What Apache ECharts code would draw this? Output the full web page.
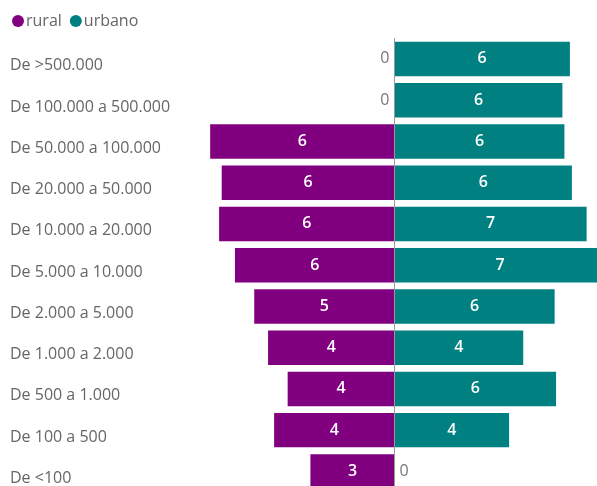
<!DOCTYPE html>
<html>
<head>
<meta charset="utf-8">
<script src="https://cdn.jsdelivr.net/npm/echarts@6/dist/echarts.min.js"></script>
<style>
  html, body { margin: 0; padding: 0; background: #fff; }
  #chart { width: 597px; height: 486px; }
</style>
</head>
<body>
<div id="chart"></div>
<script>
// Municipality size bands, largest first
const categories = [
  'De >500.000',
  'De 100.000 a 500.000',
  'De 50.000 a 100.000',
  'De 20.000 a 50.000',
  'De 10.000 a 20.000',
  'De 5.000 a 10.000',
  'De 2.000 a 5.000',
  'De 1.000 a 2.000',
  'De 500 a 1.000',
  'De 100 a 500',
  'De <100'
];

// Values per band (labels show them rounded)
const rural  = [0, 0, 6.40, 6.00, 6.09, 5.54, 4.87, 4.39, 3.71, 4.18, 2.92];
const urbano = [6.09, 5.83, 5.90, 6.16, 6.67, 7.33, 5.56, 4.47, 5.61, 3.98, 0];

const seriesNames = ['rural', 'urbano'];

const FONT = '"Open Sans", "Noto Sans", sans-serif';
const PURPLE = '#800080';
const TEAL = '#008080';

function roundLabel(p) {
  return String(Math.round(Math.abs(p.value)));
}

// Zero-length bars get their label outside, next to the centre line
function buildData(values, sign, zeroPos) {
  return values.map(v => {
    if (v === 0) {
      return {
        value: 0,
        label: { position: zeroPos, color: '#777', fontWeight: 'normal', distance: 5 }
      };
    }
    return { value: sign * v };
  });
}

const chart = echarts.init(document.getElementById('chart'), null, { renderer: 'canvas' });

chart.setOption({
  animation: false,
  textStyle: { fontFamily: FONT },
  legend: {
    left: 7,
    top: 8,
    itemWidth: 12,
    itemHeight: 12,
    itemGap: 8,
    icon: 'circle',
    data: seriesNames,
    textStyle: { color: '#666', fontSize: 16, fontFamily: FONT, padding: [0, 0, 0, -3] }
  },
  grid: {
    left: 106.5,
    right: 0,
    top: 38.3,
    bottom: -6,
    outerBoundsMode: 'none',
    containLabel: false
  },
  xAxis: {
    type: 'value',
    min: -10,
    max: 7.03125,
    show: false
  },
  yAxis: {
    type: 'category',
    inverse: true,
    data: categories,
    axisLine: { show: false, onZero: false },
    axisTick: { show: false },
    splitLine: { show: false },
    axisLabel: {
      align: 'left',
      verticalAlign: 'top',
      lineHeight: 14,
      margin: 96.5,
      color: '#666',
      fontSize: 16,
      fontFamily: FONT
    }
  },
  series: [
    {
      name: seriesNames[0],
      type: 'bar',
      clip: false,
      barGap: '-100%',
      barCategoryGap: '16.4%',
      itemStyle: { color: PURPLE },
      label: {
        show: true,
        position: 'inside',
        color: '#fff',
        fontSize: 16,
        fontWeight: 600,
        fontFamily: FONT,
        formatter: roundLabel
      },
      data: buildData(rural, -1, 'left'),
      markLine: {
        silent: true,
        symbol: 'none',
        label: { show: false },
        lineStyle: { color: '#999', width: 1, type: 'solid' },
        data: [{ xAxis: 0 }]
      }
    },
    {
      name: seriesNames[1],
      type: 'bar',
      clip: false,
      barGap: '-100%',
      barCategoryGap: '16.4%',
      itemStyle: { color: TEAL },
      label: {
        show: true,
        position: 'inside',
        color: '#fff',
        fontSize: 16,
        fontWeight: 600,
        fontFamily: FONT,
        formatter: roundLabel
      },
      data: buildData(urbano, 1, 'right')
    }
  ]
});
</script>
</body>
</html>
